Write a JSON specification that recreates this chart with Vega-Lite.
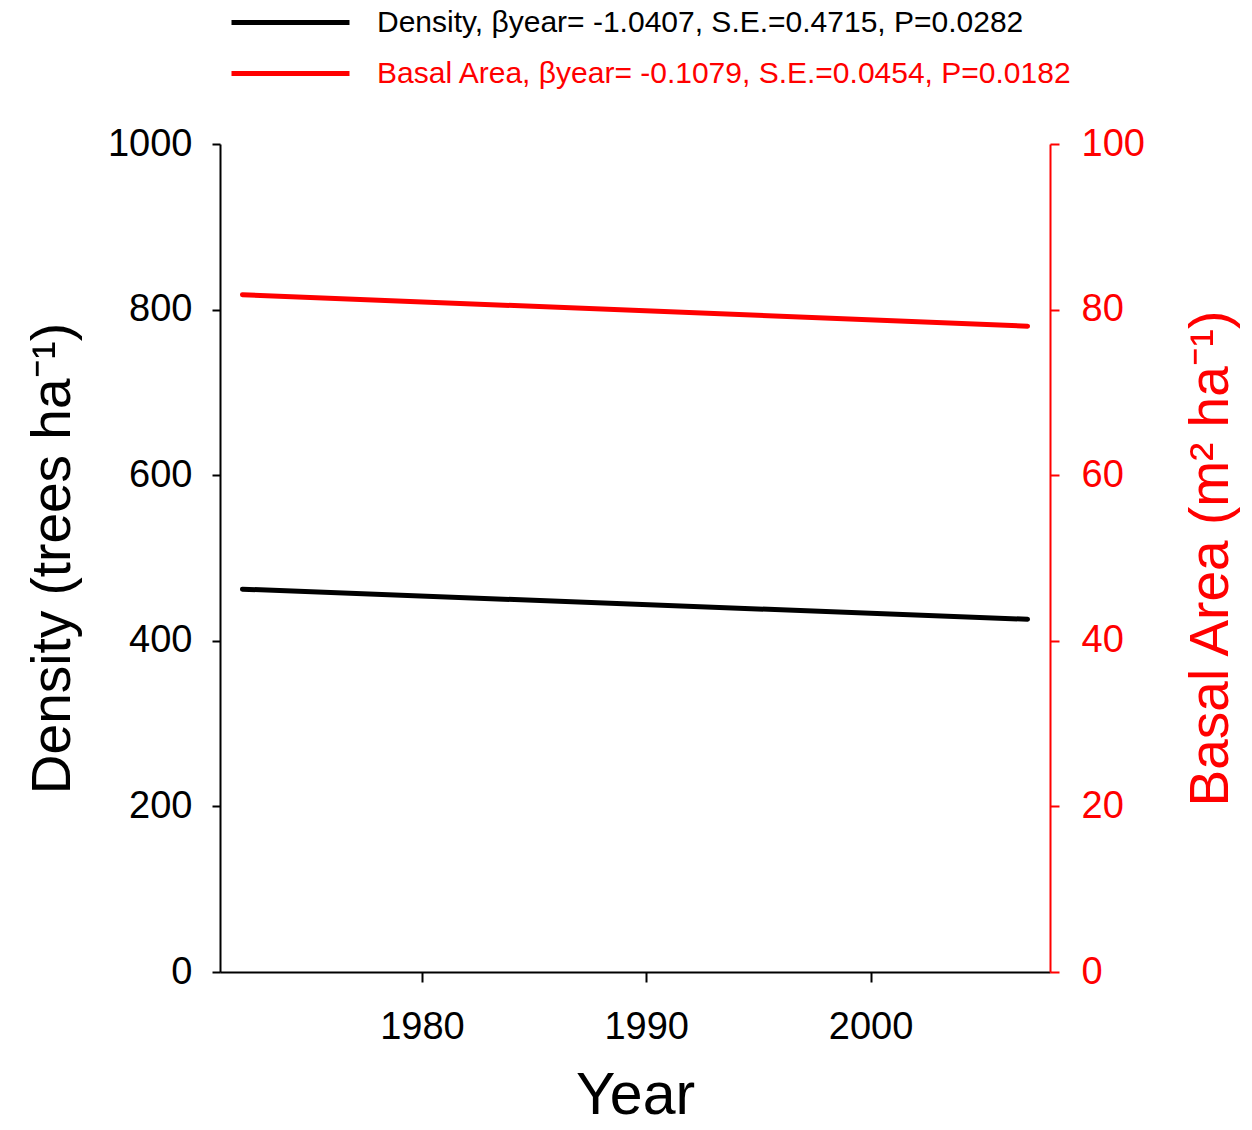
{
  "$schema": "https://vega.github.io/schema/vega-lite/v6.json",
  "width": 830,
  "height": 828,
  "autosize": "none",
  "padding": {"left": 220, "top": 144, "right": 202, "bottom": 158},
  "background": "white",
  "config": {
    "font": "Liberation Sans",
    "view": {"stroke": null}
  },
  "data": {
    "values": [
      {"series": "Density", "year": 1972, "density": 462.4},
      {"series": "Density", "year": 2007, "density": 426.0},
      {"series": "Basal Area", "year": 1972, "basal": 81.8},
      {"series": "Basal Area", "year": 2007, "basal": 78.0}
    ]
  },
  "encoding": {
    "x": {
      "field": "year",
      "type": "quantitative",
      "scale": {"domain": [1971, 2008], "nice": false, "zero": false},
      "axis": {
        "values": [1980, 1990, 2000],
        "format": "d",
        "title": "Year",
        "titleFontSize": 59,
        "titleFontWeight": "normal",
        "titleColor": "black",
        "titlePadding": 20,
        "labelFontSize": 38,
        "labelColor": "black",
        "labelPadding": 26,
        "tickSize": 10,
        "tickWidth": 2,
        "tickColor": "black",
        "domainWidth": 2,
        "domainColor": "black",
        "grid": false
      }
    }
  },
  "layer": [
    {
      "transform": [{"filter": "datum.series === 'Density'"}],
      "mark": {"type": "line", "strokeWidth": 5, "strokeCap": "round"},
      "encoding": {
        "y": {
          "field": "density",
          "type": "quantitative",
          "scale": {"domain": [0, 1000], "nice": false},
          "axis": {
            "orient": "left",
            "values": [0, 200, 400, 600, 800, 1000],
            "format": "d",
            "title": "Density (trees ha⁻¹)",
            "titleFontSize": 55,
            "titleFontWeight": "normal",
            "titleColor": "black",
            "titlePadding": 26,
            "labelFontSize": 38,
            "labelColor": "black",
            "labelPadding": 20,
            "tickSize": 8,
            "tickWidth": 2,
            "tickColor": "black",
            "domainWidth": 2,
            "domainColor": "black",
            "grid": false
          }
        },
        "color": {
          "field": "series",
          "type": "nominal",
          "scale": {"domain": ["Density", "Basal Area"], "range": ["black", "red"]},
          "legend": {
            "orient": "none",
            "legendX": 48,
            "legendY": -144,
            "title": null,
            "symbolType": "M-3,0H3",
            "symbolSize": 1547,
            "symbolStrokeWidth": 5,
            "labelFontSize": 30,
            "labelOffset": 64,
            "labelLimit": 1000,
            "rowPadding": 13,
            "labelExpr": "datum.value === 'Density' ? 'Density, βyear= -1.0407, S.E.=0.4715, P=0.0282' : 'Basal Area, βyear= -0.1079, S.E.=0.0454, P=0.0182'",
            "encode": {
              "labels": {"update": {"fill": {"signal": "datum.value === 'Basal Area' ? 'red' : 'black'"}}}
            }
          }
        }
      }
    },
    {
      "transform": [{"filter": "datum.series === 'Basal Area'"}],
      "mark": {"type": "line", "strokeWidth": 5, "strokeCap": "round"},
      "encoding": {
        "y": {
          "field": "basal",
          "type": "quantitative",
          "scale": {"domain": [0, 100], "nice": false},
          "axis": {
            "orient": "right",
            "values": [0, 20, 40, 60, 80, 100],
            "format": "d",
            "title": "Basal Area (m² ha⁻¹)",
            "titleAngle": -90,
            "titleBaseline": "top",
            "titleFontSize": 55,
            "titleFontWeight": "normal",
            "titleColor": "red",
            "titlePadding": 40,
            "labelFontSize": 38,
            "labelColor": "red",
            "labelPadding": 22,
            "tickSize": 9,
            "tickWidth": 2,
            "tickColor": "red",
            "domainWidth": 2,
            "domainColor": "red",
            "grid": false
          }
        },
        "color": {
          "field": "series",
          "type": "nominal",
          "scale": {"domain": ["Density", "Basal Area"], "range": ["black", "red"]}
        }
      }
    }
  ],
  "resolve": {"scale": {"y": "independent"}}
}
